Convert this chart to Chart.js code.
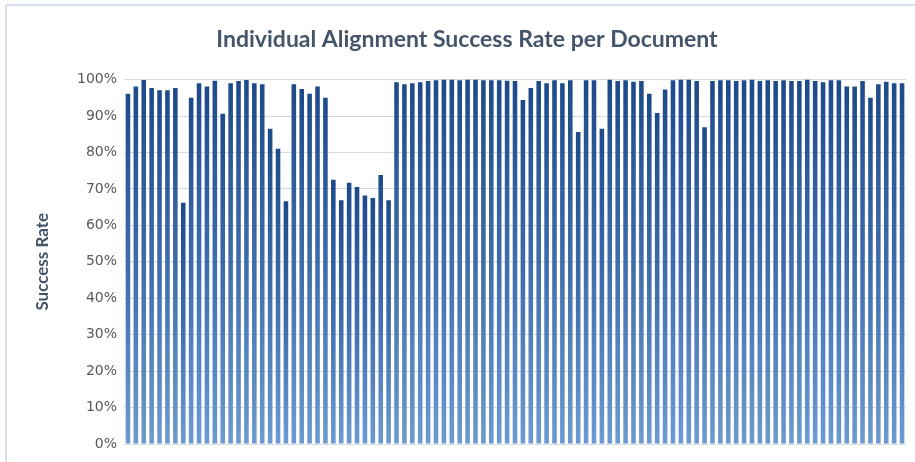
<!DOCTYPE html>
<html>
<head>
<meta charset="utf-8">
<script src="https://cdn.jsdelivr.net/npm/chart.js@4.4.1/dist/chart.umd.min.js"></script>
<style>
	html, body { margin: 0; padding: 0; background: #fff; }
	#wrap { position: relative; width: 915px; height: 462px; overflow: hidden; }
	#frame { position: absolute; left: 5px; top: 4px; width: 940px; height: 480px;
		border-top: 2px solid #d6e0ec; border-left: 2px solid #d6e0ec; border-radius: 3px; }
	canvas { position: absolute; left: 0; top: 0; }
</style>
</head>
<body>
<div id="wrap">
	<div id="frame"></div>
	<canvas id="chart" width="915" height="462"></canvas>
</div>
<script>
// success rate per document, in percent
const successRates = [
	96.1, 98.1, 99.9, 97.7, 97.1, 97.1, 97.7, 66.2, 95.0, 99.0,
	98.1, 99.7, 90.6, 99.0, 99.6, 99.9, 99.0, 98.7, 86.5, 81.0,
	66.6, 98.7, 97.4, 96.1, 98.1, 95.0, 72.5, 66.9, 71.7, 70.5,
	68.2, 67.5, 73.8, 66.9, 99.3, 98.7, 99.0, 99.3, 99.6, 99.8,
	100, 100, 99.8, 100, 100, 99.8, 99.8, 99.8, 99.7, 99.6,
	94.4, 97.7, 99.6, 99.0, 99.8, 99.0, 99.8, 85.6, 99.8, 99.8,
	86.5, 100, 99.6, 99.8, 99.4, 99.6, 96.1, 90.8, 97.3, 99.8,
	100, 100, 99.6, 86.9, 99.6, 99.8, 99.8, 99.6, 99.8, 100,
	99.6, 99.8, 99.6, 99.8, 99.6, 99.6, 100, 99.6, 99.3, 99.8,
	99.8, 98.1, 98.1, 99.6, 95.0, 98.7, 99.4, 99.0, 99.0
];

const documents = successRates.map((_, i) => "Document " + (i + 1));

const yTicks = [0, 10, 20, 30, 40, 50, 60, 70, 80, 90, 100];

const chartTitle = "Individual Alignment Success Rate per Document";
const yAxisTitle = "Success Rate";

const titleFont = "Lato, 'Open Sans', sans-serif";
const tickFont = "'DejaVu Sans', Verdana, sans-serif";

// gradient per bar, dark at the top of the bar, light at its base
function barGradient(ctx) {
	const chart = ctx.chart;
	if (ctx.type !== "data" || !chart.chartArea) return "#3d6aa8";
	const y = chart.scales.y;
	const top = y.getPixelForValue(ctx.parsed.y);
	const bottom = y.getPixelForValue(0);
	const g = chart.ctx.createLinearGradient(0, top, 0, bottom);
	g.addColorStop(0, "#1f4a8a");
	g.addColorStop(0.5, "#3f6dab");
	g.addColorStop(1, "#6c9bd1");
	return g;
}

new Chart(document.getElementById("chart"), {
	type: "bar",
	data: {
		labels: documents,
		datasets: [{
			label: yAxisTitle,
			data: successRates,
			backgroundColor: barGradient,
			borderWidth: 0,
			categoryPercentage: 1,
			barPercentage: 0.58
		}]
	},
	options: {
		responsive: false,
		animation: false,
		layout: { padding: { left: 28, right: 9, top: 0, bottom: 18 } },
		plugins: {
			legend: { display: false },
			tooltip: { enabled: false },
			title: {
				display: true,
				text: chartTitle,
				color: "#44546a",
				font: { family: titleFont, size: 23, weight: "bold" },
				padding: { top: 26, bottom: 26 }
			}
		},
		scales: {
			x: {
				display: false
			},
			y: {
				min: 0,
				max: 100,
				afterBuildTicks: scale => {
					scale.ticks = yTicks.map(v => ({ value: v }));
				},
				afterFit: scale => { scale.width = 96; },
				grid: { color: "#d9d9d9", lineWidth: 1, drawTicks: false },
				border: { display: false },
				ticks: {
					color: "#595959",
					padding: 7,
					font: { family: tickFont, size: 14 },
					callback: v => v + "%"
				},
				title: {
					display: true,
					text: yAxisTitle,
					color: "#44546a",
					font: { family: titleFont, size: 17, weight: "bold" },
					padding: { top: 4, bottom: 0 }
				}
			}
		}
	}
});
</script>
</body>
</html>
